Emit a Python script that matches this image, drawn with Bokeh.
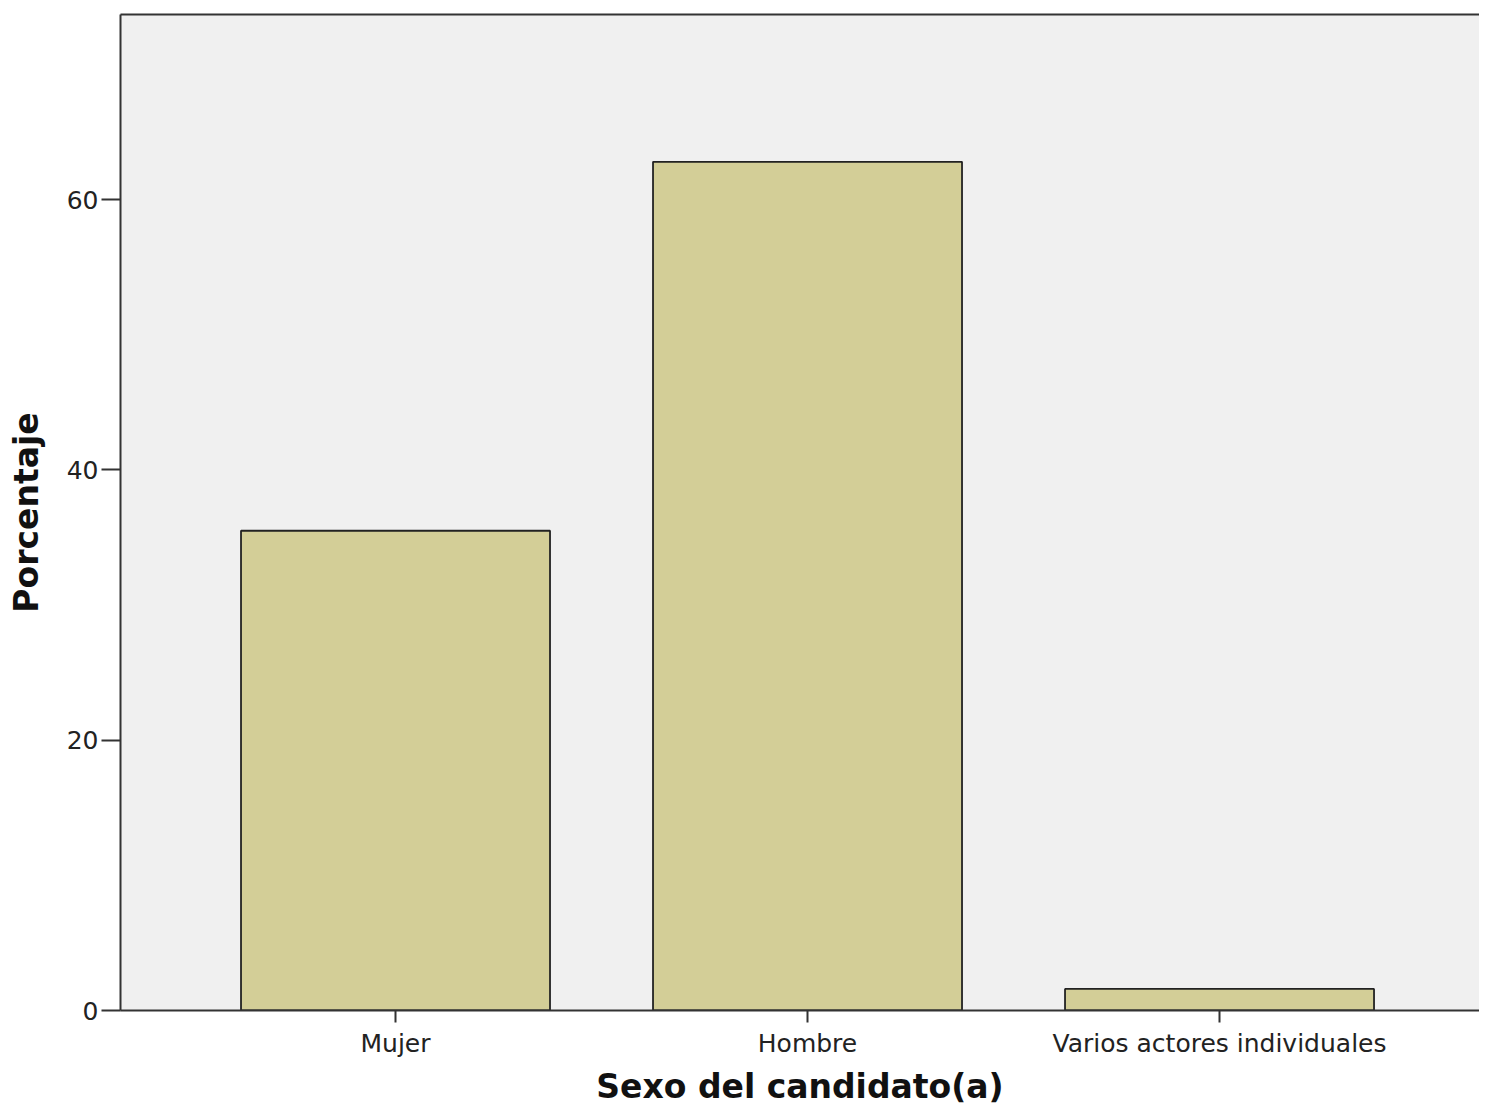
from bokeh.plotting import figure
from bokeh.models import Range1d, FixedTicker, LinearAxis
from bokeh.embed import file_html
from bokeh.resources import INLINE

categories = ["Mujer", "Hombre", "Varios actores individuales"]
porcentaje = [35.5, 62.8, 1.6]
y_ticks = [0, 20, 40, 60]

xs = list(range(1, len(categories) + 1))

p = figure(width=1479, height=1109, output_backend="svg", toolbar_location=None,
           x_range=Range1d(0.3325, 3.631), y_range=Range1d(0, 73.7),
           min_border_left=120, min_border_right=0, min_border_top=14, min_border_bottom=99)

p.background_fill_color = "#f0f0f0"
p.border_fill_color = "white"
p.outline_line_color = None
p.grid.visible = False

p.vbar(x=xs, top=porcentaje, width=0.75, bottom=0,
       fill_color="#d3ce97", line_color="#222222", line_width=1.8)

xax = p.below[0]
yax = p.left[0]

top_axis = LinearAxis(ticker=FixedTicker(ticks=[]), major_label_text_font_size="0px",
                      major_label_standoff=0, major_tick_out=0, major_tick_in=0,
                      minor_tick_out=0, minor_tick_in=0,
                      axis_line_color="#333333", axis_line_width=2,
                      major_tick_line_color=None, minor_tick_line_color=None)
p.add_layout(top_axis, "above")

xax.ticker = FixedTicker(ticks=xs)
xax.major_label_overrides = {x: c for x, c in zip(xs, categories)}
yax.ticker = FixedTicker(ticks=y_ticks)

for ax in (xax, yax):
    ax.axis_line_color = "#333333"
    ax.axis_line_width = 2
    ax.major_tick_line_color = "#333333"
    ax.major_tick_line_width = 2
    ax.minor_tick_line_color = None
    ax.major_label_text_font = "DejaVu Sans"
    ax.major_label_text_font_size = "25px"
    ax.major_label_text_color = "#222222"
    ax.axis_label_text_font = "DejaVu Sans"
    ax.axis_label_text_font_style = "bold"
    ax.axis_label_text_font_size = "33px"
    ax.axis_label_text_color = "#111111"

xax.major_tick_in = 0
xax.major_tick_out = 12
yax.major_tick_in = 0
yax.major_tick_out = 19
xax.major_label_standoff = 6
yax.major_label_standoff = 3
xax.axis_label = "Sexo del candidato(a)"
yax.axis_label = "Porcentaje"
xax.axis_label_standoff = 6
yax.axis_label_standoff = 18

open("out.html", "w").write(file_html(p, INLINE))
